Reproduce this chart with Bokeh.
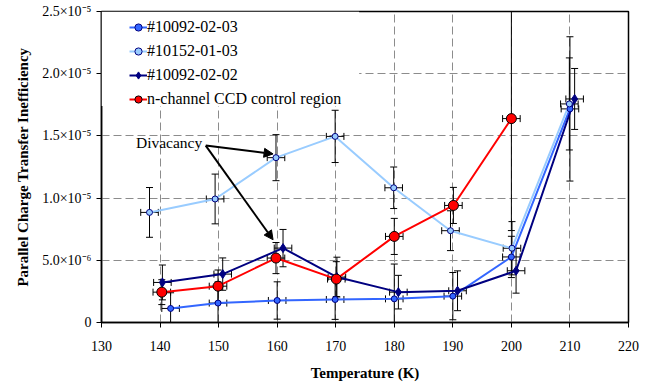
import math
from bokeh.plotting import figure
from bokeh.models import (ColumnDataSource, FixedTicker, Legend, LegendItem, Arrow,
                          NormalHead, BoxAnnotation, Range1d)
from bokeh.core.properties import value
from bokeh.embed import file_html
from bokeh.resources import INLINE

# ---------------- data ----------------
temp_10092_02_03 = [141.8, 149.9, 160.0, 169.9, 180.0, 190.0, 200.0, 210.0]
cti_10092_02_03 = [1.13e-6, 1.56e-6, 1.77e-6, 1.85e-6, 1.90e-6, 2.12e-6, 5.27e-6, 1.717e-5]
err_10092_02_03 = [1.26e-6, 1.70e-6, 1.50e-6, 1.60e-6, 2.80e-6, 1.90e-6, 1.66e-6, 5.80e-6]

temp_10152_01_03 = [138.2, 149.4, 159.8, 169.9, 179.9, 189.6, 200.1, 209.9]
cti_10152_01_03 = [8.85e-6, 9.93e-6, 1.325e-5, 1.496e-5, 1.083e-5, 7.38e-6, 5.97e-6, 1.757e-5]
err_10152_01_03 = [2.00e-6, 2.00e-6, 1.85e-6, 2.10e-6, 1.67e-6, 1.60e-6, 2.14e-6, 3.70e-6]

temp_10092_02_02 = [140.4, 150.7, 161.0, 170.2, 180.7, 190.8, 200.8, 210.8]
cti_10092_02_02 = [3.22e-6, 3.89e-6, 5.98e-6, 3.65e-6, 2.44e-6, 2.55e-6, 4.16e-6, 1.797e-5]
err_10092_02_02 = [1.40e-6, 1.30e-6, 1.50e-6, 1.60e-6, 1.35e-6, 1.60e-6, 1.80e-6, 2.45e-6]

temp_nchannel = [140.3, 149.9, 159.8, 170.1, 180.0, 190.1, 200.0]
cti_nchannel = [2.44e-6, 2.92e-6, 5.18e-6, 3.49e-6, 6.92e-6, 9.41e-6, 1.639e-5]
err_nchannel = [1.00e-6, 1.30e-6, 1.25e-6, 1.40e-6, 1.45e-6, 1.45e-6, 9.00e-6]

temp_err_K = 1.5

x_ticks = [130, 140, 150, 160, 170, 180, 190, 200, 210, 220]
y_ticks = [0, 5e-6, 1.0e-5, 1.5e-5, 2.0e-5, 2.5e-5]
y_tick_labels = ["0", "5.0×10⁻⁶", "1.0×10⁻⁵", "1.5×10⁻⁵", "2.0×10⁻⁵", "2.5×10⁻⁵"]

SCALE = 1e6  # plot in units of 1e-6

FONT = "Liberation Serif"

p = figure(frame_width=527, frame_height=311,
           x_range=Range1d(130, 220), y_range=Range1d(0, 25),
           output_backend="svg", toolbar_location=None,
           min_border_left=101, min_border_right=22, min_border_top=11, min_border_bottom=58,
           background_fill_color="white", border_fill_color="white")

p.outline_line_color = "black"
p.outline_line_width = 1.5

# axes
p.xaxis.ticker = FixedTicker(ticks=x_ticks)
p.yaxis.ticker = FixedTicker(ticks=[t * SCALE for t in y_ticks])
p.yaxis.major_label_overrides = {int(round(t * SCALE)): lab for t, lab in zip(y_ticks, y_tick_labels)}
for ax in (p.xaxis, p.yaxis):
    ax.axis_line_color = "black"
    ax.axis_line_width = 1.5
    ax.major_tick_line_color = "black"
    ax.major_tick_line_width = 1
    ax.major_tick_in = 0
    ax.major_tick_out = 5
    ax.minor_tick_line_color = None
    ax.major_label_text_font = FONT
    ax.major_label_text_font_size = "14px"
    ax.major_label_text_color = "black"
    ax.axis_label_text_font = FONT
    ax.axis_label_text_font_size = "15px"
    ax.axis_label_text_font_style = "bold"
    ax.axis_label_text_color = "black"
p.xaxis.axis_label = "Temperature (K)"
p.yaxis.axis_label = "Parallel Charge Transfer Inefficiency"
p.xaxis.major_label_standoff = 13
p.xaxis.axis_label_standoff = 11
p.yaxis.major_label_standoff = 5
p.yaxis.axis_label_standoff = 8

# grids
p.xgrid.ticker = FixedTicker(ticks=x_ticks[1:-1])
p.ygrid.ticker = FixedTicker(ticks=[t * SCALE for t in y_ticks[1:-1]])
for g in (p.xgrid, p.ygrid):
    g.grid_line_color = "#8c8c8c"
    g.grid_line_width = 1
    g.grid_line_dash = "8 4"

# white area behind the legend
p.add_layout(BoxAnnotation(right=174.0, bottom=17.4, fill_color="white", fill_alpha=1.0,
                           line_color=None))

series = [
    ("#10092-02-03", temp_10092_02_03, cti_10092_02_03, err_10092_02_03,
     "#3366ff", "circle", "#3366ff", "#000080", 6),
    ("#10152-01-03", temp_10152_01_03, cti_10152_01_03, err_10152_01_03,
     "#99ccff", "circle", "#99ccff", "#000080", 6),
    ("#10092-02-02", temp_10092_02_02, cti_10092_02_02, err_10092_02_02,
     "#000080", "diamond", "#000080", "#000080", 9),
    ("n-channel CCD control region", temp_nchannel, cti_nchannel, err_nchannel,
     "#ff0000", "circle", "#ff0000", "black", 10),
]

# error bars (all series) first
for name, xs, ys, es, *_ in series:
    yv = [v * SCALE for v in ys]
    ev = [v * SCALE for v in es]
    src = ColumnDataSource(dict(
        x=xs, y=yv,
        lo=[a - b for a, b in zip(yv, ev)], hi=[a + b for a, b in zip(yv, ev)],
        xl=[a - temp_err_K for a in xs], xr=[a + temp_err_K for a in xs]))
    p.segment(x0="x", y0="lo", x1="x", y1="hi", source=src, line_color="black", line_width=1)
    p.segment(x0="xl", y0="y", x1="xr", y1="y", source=src, line_color="black", line_width=1)
    p.scatter(x="x", y="lo", source=src, marker="dash", size=7, line_color="black", line_width=1)
    p.scatter(x="x", y="hi", source=src, marker="dash", size=7, line_color="black", line_width=1)
    p.scatter(x="xl", y="y", source=src, marker="dash", angle=math.pi / 2, size=7,
              line_color="black", line_width=1)
    p.scatter(x="xr", y="y", source=src, marker="dash", angle=math.pi / 2, size=7,
              line_color="black", line_width=1)

items = []
line_rs = []
for name, xs, ys, es, lc, mk, fc, oc, sz in series:
    src = ColumnDataSource(dict(x=xs, y=[v * SCALE for v in ys]))
    lr = p.line(x="x", y="y", source=src, line_color=lc, line_width=2)
    line_rs.append((name, lr, src, mk, fc, oc, sz))
for name, lr, src, mk, fc, oc, sz in line_rs:
    mr = p.scatter(x="x", y="y", source=src, marker=mk, size=sz, fill_color=fc,
                   line_color=oc, line_width=1)
    items.append(LegendItem(label=name, renderers=[lr, mr]))

# annotation
p.text(x=[147.2], y=[14.45], text=["Divacancy"], text_align="right", text_baseline="middle",
       text_font=value(FONT), text_font_size="15.5px", text_color="black")
for xe, ye in [(159.3, 13.55), (159.3, 6.65)]:
    p.add_layout(Arrow(x_start=147.8, y_start=14.22, x_end=xe, y_end=ye,
                       line_color="black", line_width=2,
                       end=NormalHead(size=9, fill_color="black", line_color="black")))

legend = Legend(items=items, location=(28, 214), padding=0, margin=0, spacing=6,
                glyph_width=18, glyph_height=18, label_height=18, label_standoff=0,
                label_text_font=FONT, label_text_font_size="16px", label_text_color="black",
                background_fill_alpha=0.0, border_line_color=None)
p.add_layout(legend)

open("out.html", "w").write(file_html(p, INLINE))
